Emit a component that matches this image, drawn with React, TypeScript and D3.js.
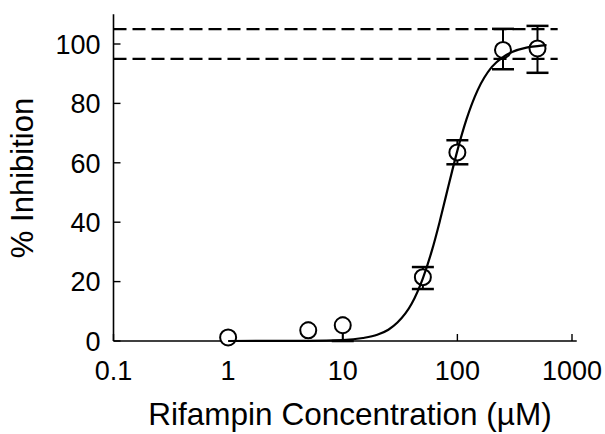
import React from "react";
import * as d3 from "d3";

// ---- data ----
const concentrations = [1, 5, 10, 50, 100, 250, 500];
const inhibition = [1.2, 3.6, 5.3, 21.5, 63.5, 98.0, 98.5];
const errUp = [0, 2.5, 2.5, 3.4, 4.1, 7.1, 7.6];
const errDown = [0, 2.5, 5.3, 4.0, 4.0, 6.5, 8.2];

const fitX = [1, 5, 10, 15, 20, 25, 30, 40, 50, 60, 70, 80, 90, 100, 120, 150, 200, 250, 300, 400, 500, 600];
const fitY = [0, 0.05, 0.3, 1.0, 2.1, 3.8, 6.2, 12.6, 21.1, 30.5, 40.1, 49.2, 57.2, 64.1, 74.6, 84.4, 92.3, 95.6, 97.3, 98.8, 99.3, 99.6];

const limitLines = [105, 95];

const yTicks = [0, 20, 40, 60, 80, 100];
const xTicks = [0.1, 1, 10, 100, 1000];
const xTickLabels = ["0.1", "1", "10", "100", "1000"];

const xDomain: [number, number] = [0.1, 1000];
const xAxisEnd = 1100;
const yAxisTop = 110;
const dashEnd = 750;

const W = 605;
const H = 434;
const FONT = "'Liberation Sans', Arial, Helvetica, sans-serif";

export default function App() {
  const x = d3.scaleLog().domain(xDomain).range([113.5, 572]);
  const y = d3.scaleLinear().domain([0, 100]).range([341, 44]);

  const line = d3
    .line<number>()
    .x((_, i) => x(fitX[i]))
    .y((d) => y(d))
    .curve(d3.curveMonotoneX);

  const x0 = x(xDomain[0]);
  const y0 = y(0);

  return (
    <svg
      width={W}
      height={H}
      style={{ position: "absolute", left: 0, top: 0, background: "#fff" }}
      fontFamily={FONT}
    >
      <rect width={W} height={H} fill="#fff" />
      {/* axes */}
      <line x1={x0} x2={x0} y1={y(yAxisTop)} y2={y0} stroke="#000" strokeWidth={1.6} />
      <line x1={x0} x2={x(xAxisEnd)} y1={y0} y2={y0} stroke="#000" strokeWidth={1.6} />
      {yTicks.map((t) => (
        <g key={"yt" + t}>
          <line x1={x0} x2={x0 + 7} y1={y(t)} y2={y(t)} stroke="#000" strokeWidth={1.4} />
          <text x={x0 - 13} y={y(t)} dy="0.36em" textAnchor="end" fontSize={27}>
            {t}
          </text>
        </g>
      ))}
      {xTicks.map((t, i) => (
        <g key={"xt" + t}>
          <line x1={x(t)} x2={x(t)} y1={y0} y2={y0 - 7} stroke="#000" strokeWidth={1.4} />
          <text x={x(t)} y={380} textAnchor="middle" fontSize={27}>
            {xTickLabels[i]}
          </text>
        </g>
      ))}
      {/* titles */}
      <text x={350} y={425} textAnchor="middle" fontSize={31.5}>
        Rifampin Concentration (µM)
      </text>
      <text transform="translate(33, 178) rotate(-90)" textAnchor="middle" fontSize={31}>
        % Inhibition
      </text>
      {/* dashed limits */}
      {limitLines.map((v) => (
        <line
          key={"lim" + v}
          x1={x0}
          x2={x(dashEnd)}
          y1={y(v)}
          y2={y(v)}
          stroke="#000"
          strokeWidth={2.2}
          strokeDasharray="13 6"
        />
      ))}
      {/* error bars and points */}
      {concentrations.map((c, i) => {
        const cx = x(c);
        const cy = y(inhibition[i]);
        const top = y(inhibition[i] + errUp[i]);
        const bot = y(inhibition[i] - errDown[i]);
        const capUp = errUp[i] > 3 ? 11 : 3;
        const capDown = errDown[i] > 3 ? 11 : 3;
        return (
          <g key={"p" + c}>
            {errUp[i] > 0 && (
              <>
                <line x1={cx} x2={cx} y1={cy} y2={top} stroke="#000" strokeWidth={2} />
                <line x1={cx - capUp} x2={cx + capUp} y1={top} y2={top} stroke="#000" strokeWidth={2.5} />
              </>
            )}
            {errDown[i] > 0 && (
              <>
                <line x1={cx} x2={cx} y1={cy} y2={bot} stroke="#000" strokeWidth={2} />
                <line x1={cx - capDown} x2={cx + capDown} y1={bot} y2={bot} stroke="#000" strokeWidth={2.5} />
              </>
            )}
            <circle cx={cx} cy={cy} r={8} fill="#fff" stroke="#000" strokeWidth={2} />
          </g>
        );
      })}
      {/* fit curve */}
      <path d={line(fitY) || ""} fill="none" stroke="#000" strokeWidth={2.2} />
    </svg>
  );
}
